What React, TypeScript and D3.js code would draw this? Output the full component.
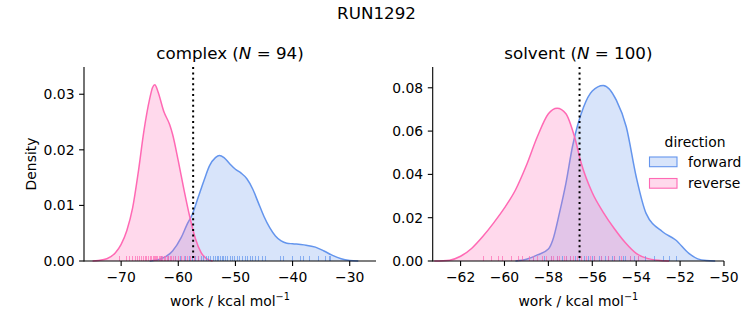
import React from "react";
import * as d3 from "d3";

// KDE curves: [work, density]
const complexForward: [number, number][] = [
  [-65, 0], [-63, 0.0004], [-61, 0.0018], [-59.5, 0.0042], [-58.5, 0.0065],
  [-57.5, 0.0085], [-56.5, 0.0115], [-55.5, 0.0145], [-54.5, 0.0172],
  [-53.5, 0.0186], [-52.8, 0.019], [-52, 0.0186], [-51, 0.0175], [-50, 0.0165],
  [-49, 0.0158], [-48, 0.0148], [-47, 0.013], [-46, 0.0105], [-45, 0.008],
  [-44, 0.006], [-43, 0.0045], [-42, 0.0036], [-41, 0.0032], [-40, 0.0031],
  [-38, 0.0029], [-36, 0.0025], [-34.5, 0.0018], [-33, 0.001], [-31.5, 0.0004],
  [-30, 0.0001], [-28.5, 0],
];
const complexReverse: [number, number][] = [
  [-75, 0], [-74, 0.0001], [-72.5, 0.0004], [-71, 0.0015], [-70, 0.003],
  [-69, 0.0055], [-68, 0.0095], [-67, 0.016], [-66, 0.0235], [-65, 0.0292],
  [-64.5, 0.0312], [-64.1, 0.0317], [-63.6, 0.0306], [-62.5, 0.0268], [-61.5, 0.0245],
  [-61, 0.0228], [-60, 0.018], [-59, 0.0128], [-58, 0.008], [-57, 0.004],
  [-56, 0.0015], [-55, 0.0004], [-54, 0],
];
const solventForward: [number, number][] = [
  [-59.5, 0], [-59, 0.0008], [-58.5, 0.0028], [-58, 0.0055], [-57.8, 0.0097],
  [-57.5, 0.022], [-57.2, 0.036], [-56.9, 0.053], [-56.4, 0.071], [-56, 0.0785],
  [-55.5, 0.0811], [-54.9, 0.0742], [-54.45, 0.0619], [-54, 0.0389],
  [-53.55, 0.022], [-52.8, 0.0135], [-52.2, 0.0097], [-51.6, 0.0035],
  [-51.2, 0.001], [-50.8, 0.0002], [-50.4, 0],
];
const solventReverse: [number, number][] = [
  [-63.2, 0], [-62.5, 0.0004], [-62, 0.0022], [-61.5, 0.0058], [-61, 0.0112],
  [-60.5, 0.0175], [-60, 0.0245], [-59.5, 0.0328], [-59, 0.0442], [-58.5, 0.0575],
  [-58, 0.068], [-57.6, 0.0706], [-57.2, 0.068], [-56.8, 0.057], [-56.5, 0.045],
  [-56, 0.0315], [-55.5, 0.0225], [-55, 0.015], [-54.5, 0.0085], [-54, 0.0035],
  [-53.5, 0.0012], [-53, 0.0003], [-52.5, 0],
];

// rug samples
const complexForwardRug = [
  -63.1, -61.8, -60.5, -59.7, -58.9, -58.2, -57.6, -57.0, -56.5, -56.0, -55.6,
  -55.2, -54.8, -54.4, -54.0, -53.6, -53.3, -53.0, -52.7, -52.4, -52.1, -51.8,
  -51.4, -51.0, -50.6, -50.2, -49.8, -49.3, -48.9, -48.4, -48.0, -47.5, -47.1,
  -46.6, -46.0, -45.4, -44.9, -42.2, -41.6, -40.1, -38.7, -38.1, -37.2, -35.5,
  -34.3, -33.7, -33.4,
];
const complexReverseRug = [
  -70.3, -69.2, -68.6, -68.1, -67.5, -67.2, -66.8, -66.5, -66.1, -65.9, -65.6,
  -65.3, -65.0, -64.8, -64.5, -64.3, -64.1, -63.9, -63.7, -63.4, -63.2, -63.0,
  -62.8, -62.5, -62.3, -62.0, -61.8, -61.5, -61.2, -60.9, -60.5, -60.1, -59.6,
  -59.0, -58.4, -57.9, -57.2, -56.6,
];
const solventForwardRug = [
  -58.7, -58.2, -57.9, -57.6, -57.4, -57.2, -57.0, -56.8, -56.6, -56.4, -56.2,
  -56.0, -55.9, -55.7, -55.6, -55.4, -55.3, -55.1, -55.0, -54.8, -54.6, -54.5,
  -54.3, -54.1, -53.9, -53.6, -53.2, -52.8, -52.5, -52.2,
];
const solventReverseRug = [
  -61.0, -60.6, -60.3, -60.1, -59.7, -59.4, -59.2, -58.9, -58.7, -58.5, -58.3,
  -58.1, -57.9, -57.8, -57.6, -57.5, -57.3, -57.2, -57.0, -56.9, -56.7, -56.5,
  -56.3, -56.1, -55.9, -55.6, -55.3, -55.0, -54.7, -54.3, -53.9,
];

const complexXTicks = [-70, -60, -50, -40, -30];
const complexYTicks = [0, 0.01, 0.02, 0.03];
const solventXTicks = [-62, -60, -58, -56, -54, -52, -50];
const solventYTicks = [0, 0.02, 0.04, 0.06, 0.08];

const directions = ["forward", "reverse"];
const colors: Record<string, string> = { forward: "#6495ED", reverse: "#FF69B4" };

const font = "DejaVu Sans, sans-serif";
const minus = (s: string) => s.replace("-", "\u2212");

type PanelProps = {
  left: number;
  right: number;
  name: string;
  n: number;
  xDomain: [number, number];
  yMax: number;
  xTicks: number[];
  yTicks: number[];
  curves: { forward: [number, number][]; reverse: [number, number][] };
  rugs: { forward: number[]; reverse: number[] };
  mark: number;
  ylabel?: boolean;
};

const top = 67;
const bottom = 261;

function Panel(p: PanelProps) {
  const x = d3.scaleLinear().domain(p.xDomain).range([p.left, p.right]);
  const y = d3.scaleLinear().domain([0, p.yMax]).range([bottom, top]);
  const area = d3
    .area<[number, number]>()
    .x((d) => x(d[0]))
    .y0(y(0))
    .y1((d) => y(d[1]))
    .curve(d3.curveMonotoneX);
  const line = d3
    .line<[number, number]>()
    .x((d) => x(d[0]))
    .y((d) => y(d[1]))
    .curve(d3.curveMonotoneX);
  const yFmt = d3.format(".2f");
  const cx = (p.left + p.right) / 2;

  return (
    <g>
      {directions.map((dir) => (
        <g key={dir}>
          <path d={area(p.curves[dir]) ?? ""} fill={colors[dir]} fillOpacity={0.25} />
          <path d={line(p.curves[dir]) ?? ""} fill="none" stroke={colors[dir]} strokeWidth={1.5} />
        </g>
      ))}
      {directions.map((dir) =>
        p.rugs[dir].map((v, i) => (
          <line
            key={dir + i}
            x1={Math.round(x(v)) + 0.5}
            x2={Math.round(x(v)) + 0.5}
            y1={bottom}
            y2={bottom - 5}
            stroke={colors[dir]}
            strokeOpacity={0.7}
            strokeWidth={1}
          />
        ))
      )}
      <line
        x1={x(p.mark)}
        x2={x(p.mark)}
        y1={top}
        y2={bottom}
        stroke="black"
        strokeWidth={2}
        strokeDasharray="2,3.4"
      />
      {/* spines */}
      <line x1={p.left} x2={p.left} y1={top} y2={bottom + 0.5} stroke="black" strokeWidth={1.1} />
      <line x1={p.left} x2={p.right} y1={bottom} y2={bottom} stroke="black" strokeWidth={1.1} />
      {p.xTicks.map((t) => (
        <g key={t}>
          <line x1={x(t)} x2={x(t)} y1={bottom} y2={bottom + 4.9} stroke="black" strokeWidth={1.1} />
          <text x={x(t)} y={bottom + 21} textAnchor="middle" fontSize={13.9} fontFamily={font}>
            {minus(String(t))}
          </text>
        </g>
      ))}
      {p.yTicks.map((t) => (
        <g key={t}>
          <line x1={p.left - 4.9} x2={p.left} y1={y(t)} y2={y(t)} stroke="black" strokeWidth={1.1} />
          <text x={p.left - 9.5} y={y(t) + 5} textAnchor="end" fontSize={13.9} fontFamily={font}>
            {yFmt(t)}
          </text>
        </g>
      ))}
      <text x={cx} y={306} textAnchor="middle" fontSize={13.9} fontFamily={font}>
        work / kcal mol
        <tspan fontSize={9.7} dy={-6}>
          {"\u22121"}
        </tspan>
      </text>
      <text x={cx} y={59} textAnchor="middle" fontSize={16.7} fontFamily={font}>
        {p.name} (<tspan fontStyle="italic">N</tspan> = {p.n})
      </text>
      {p.ylabel && (
        <text
          transform={`translate(36,${(top + bottom) / 2}) rotate(-90)`}
          textAnchor="middle"
          fontSize={13.9}
          fontFamily={font}
        >
          Density
        </text>
      )}
    </g>
  );
}

export default function App() {
  return (
    <svg
      width={753}
      height={325}
      style={{ position: "absolute", left: 0, top: 0, background: "white" }}
    >
      <text x={376.5} y={18.5} textAnchor="middle" fontSize={16.7} fontFamily={font}>
        RUN1292
      </text>
      <Panel
        left={84}
        right={376}
        name="complex"
        n={94}
        xDomain={[-76.5, -25.4]}
        yMax={0.0349}
        xTicks={complexXTicks}
        yTicks={complexYTicks}
        curves={{ forward: complexForward, reverse: complexReverse }}
        rugs={{ forward: complexForwardRug, reverse: complexReverseRug }}
        mark={-57.4}
        ylabel
      />
      <Panel
        left={432.7}
        right={724}
        name="solvent"
        n={100}
        xDomain={[-63.27, -50]}
        yMax={0.0896}
        xTicks={solventXTicks}
        yTicks={solventYTicks}
        curves={{ forward: solventForward, reverse: solventReverse }}
        rugs={{ forward: solventForwardRug, reverse: solventReverseRug }}
        mark={-56.58}
      />
      {/* legend */}
      <text x={695} y={146.5} textAnchor="middle" fontSize={13.9} fontFamily={font}>
        direction
      </text>
      {directions.map((dir, i) => (
        <g key={dir} transform={`translate(0,${i * 21.5})`}>
          <rect
            x={649.5}
            y={157}
            width={27.5}
            height={9.7}
            fill={colors[dir]}
            fillOpacity={0.25}
            stroke={colors[dir]}
            strokeWidth={1.1}
          />
          <text x={688} y={166.5} fontSize={13.9} fontFamily={font}>
            {dir}
          </text>
        </g>
      ))}
    </svg>
  );
}
